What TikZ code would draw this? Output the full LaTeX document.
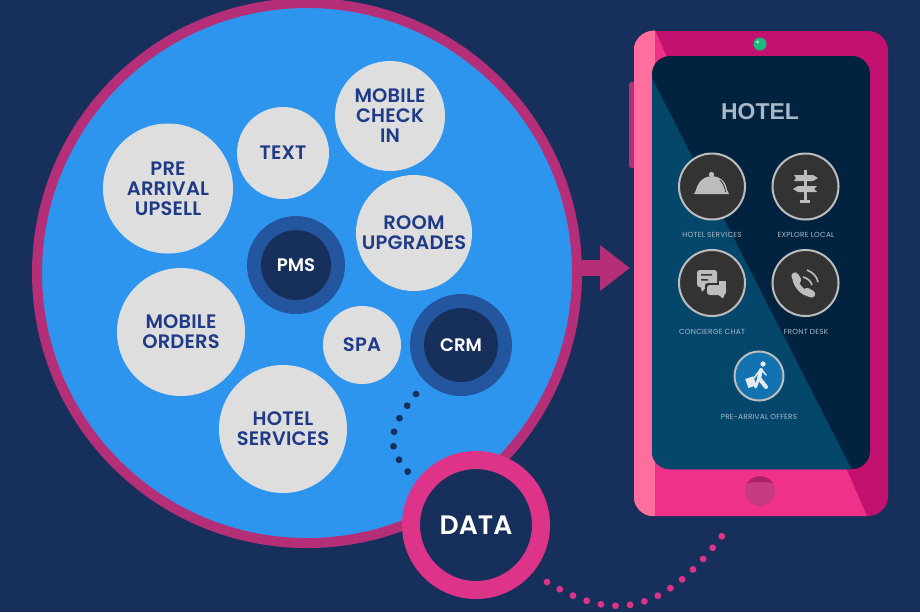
\documentclass[tikz,border=0pt]{standalone}
\usepackage{fontspec}
\setmainfont{Poppins}[BoldFont={Poppins SemiBold}]
\setsansfont{Liberation Sans}
\usetikzlibrary{arrows.meta, calc}
\definecolor{cnight}{HTML}{17305B}
\definecolor{cring}{HTML}{B52F78}
\definecolor{csky}{HTML}{2E95EE}
\definecolor{cpale}{HTML}{DEDEDE}
\definecolor{cink}{HTML}{1F3A86}
\definecolor{cmid}{HTML}{23569F}
\definecolor{cdata}{HTML}{DD3388}
\definecolor{cmagenta}{HTML}{C2116F}
\definecolor{cpink}{HTML}{F03189}
\definecolor{crose}{HTML}{FF6F9E}
\definecolor{cscreen}{HTML}{02233F}
\definecolor{cglass}{HTML}{05476B}
\definecolor{cicon}{HTML}{333333}
\definecolor{csilver}{HTML}{BDBDBD}
\definecolor{clabel}{HTML}{A9B9C8}
\definecolor{clens}{HTML}{19B97F}
\definecolor{coffer}{HTML}{1372B0}
\definecolor{cwalker}{HTML}{E4ECF2}
\definecolor{chome}{HTML}{C63A80}
\definecolor{ccap}{HTML}{AE2168}
\tikzset{
  x=0.75pt, y=-0.75pt,
  bubble/.style={circle, fill=cpale, text=cink, align=center, inner sep=0pt, minimum size=#1*0.75pt,
    font=\fontsize{14.6}{15}\selectfont\bfseries\addfontfeatures{LetterSpace=1}},
  hole/.style={circle, fill=cnight, text=white, inner sep=0pt, minimum size=#1*0.75pt,
    font=\fontsize{13.6}{14}\selectfont\bfseries},
  halo/.style={circle, fill=cmid, inner sep=0pt, minimum size=#1*0.75pt},
  dotline/.style={draw=#1, line width=5.1pt, line cap=round, dash pattern=on 0pt off 11pt},
  arrow/.style={-{Triangle[length=22.5pt, width=33pt]}, draw=cring, line width=12pt},
  app/.style={circle, fill=cicon, draw=csilver, line width=1.5pt, inner sep=0pt, minimum size=#1*0.75pt},
  applabel/.style={text=clabel, inner sep=0pt, font=\fontsize{5.5}{6}\selectfont\addfontfeatures{LetterSpace=3}},
  glyph/.style={fill=csilver, draw=none},
  panel/.style={rectangle, inner sep=0pt, minimum width=#1*0.75pt},
}
\begin{document}
\begin{tikzpicture}
  \fill[cnight] (0,0) rectangle (920,612);
  \useasboundingbox (0,0) rectangle (920,612);

  \node[circle, fill=csky, draw=cring, line width=7.5pt, inner sep=0pt, minimum size=405pt] (hub) at (307,273) {};
  \node[bubble=130] (upsell) at (168,188.5) {PRE\\ARRIVAL\\UPSELL};
  \node[bubble=92] (text) at (283,153) {TEXT};
  \node[bubble=110] (checkin) at (390,116) {MOBILE\\CHECK\\IN};
  \node[bubble=116] (room) at (414,233) {ROOM\\UPGRADES};
  \node[bubble=128] (orders) at (181,332) {MOBILE\\ORDERS};
  \node[bubble=78] (spa) at (362,345) {SPA};
  \node[bubble=128] (services) at (283,429) {HOTEL\\SERVICES};
  \node[halo=98] (pmsring) at (296,265) {};
  \node[hole=70] (pms) at (296,265) {PMS};
  \node[halo=102] (crmring) at (461,345) {};
  \node[hole=74] (crm) at (461,345) {CRM};

  \coordinate (crmtail) at (416,394);
  \coordinate (datatail) at (408,472);
  \draw[dotline=cnight] (crmtail) .. controls (383,435) and (390,450) .. (datatail);

  \node[hole=130, draw=cdata, line width=13.5pt, font=\fontsize{20}{20}\selectfont\bfseries] (data) at (476,525) {DATA};

  \fill[cring, rounded corners=2pt] (629,82) rectangle (640,168);
  \node[panel=254, minimum height=363.75pt, fill=cmagenta, rounded corners=15pt] (phone) at (761,273.5) {};
  \begin{scope}
    \clip[rounded corners=15pt] (phone.south west) rectangle (phone.north east);
    \fill[cpink] (655,30) -- (867,516) -- (634,516) -- (634,30) -- cycle;
    \fill[crose] (634,30) rectangle (655,516);
  \end{scope}
  \node[panel=218, minimum height=309.75pt, fill=cscreen, rounded corners=13.5pt] (screen) at (761,262.5) {};
  \begin{scope}
    \clip[rounded corners=13.5pt] (screen.south west) rectangle (screen.north east);
    \fill[cglass] (652,78) -- (852,470) -- (652,470) -- cycle;
  \end{scope}
  \node[circle, fill=chome, inner sep=0pt, minimum size=22.5pt] (home) at (760,491) {};
  \begin{scope}
    \clip (home) circle (15);
    \fill[ccap] (745,476) -- (775,476) -- (775,484) .. controls (768,481) and (752,481) .. (745,484) -- cycle;
  \end{scope}
  \node[circle, fill=clens, inner sep=0pt, minimum size=9.75pt] (lens) at (760,44) {};
  \fill[white!70!clens] (757.5,42) circle (1.5);

  \node[font=\sffamily\bfseries\fontsize{17.2}{20}\selectfont, text=clabel] (title) at (760,111.5) {HOTEL};
  \node[app=66] (hotelapp) at (712,186.5) {};
  \node[app=66] (localapp) at (805.5,186.5) {};
  \node[app=66] (chatapp) at (712,283) {};
  \node[app=66] (deskapp) at (805.5,283) {};
  \node[app=49, fill=coffer] (offerapp) at (759,376) {};
  \node[applabel] (hotellabel) at (712,235) {HOTEL SERVICES};
  \node[applabel] (locallabel) at (806,235) {EXPLORE LOCAL};
  \node[applabel] (chatlabel) at (712,331.5) {CONCIERGE CHAT};
  \node[applabel] (desklabel) at (806,331.5) {FRONT DESK};
  \node[applabel] (offerlabel) at (759,417) {PRE-ARRIVAL OFFERS};

  \fill[glyph] (694,194) -- (729,194) -- (727,190) .. controls (726,181) and (719,176) .. (712,176) .. controls (705,176) and (698,181) .. (696,190) -- cycle;
  \fill[glyph] (711.5,174.5) circle (2.6);
  \draw[cicon, line width=0.6pt] (720,180) .. controls (723,183) and (725,187) .. (725.5,192);

  \fill[glyph] (803.5,170) rectangle (806.5,201);
  \fill[glyph] (800,200) rectangle (810,203);
  \fill[glyph] (794,175) -- (813,175) -- (818,178) -- (813,181) -- (794,181) -- (796,178) -- cycle;
  \fill[glyph] (817,186) -- (798,186) -- (793,189) -- (798,192) -- (817,192) -- (814,189) -- cycle;

  \fill[glyph, rounded corners=2pt] (697,270) rectangle (717,287);
  \fill[glyph] (700,285) -- (708,285) -- (702,292) -- cycle;
  \fill[cicon] (701,274) rectangle (712,275.5) (701,279) rectangle (708,280.5);
  \fill[cicon, rounded corners=2pt] (705,283) rectangle (728,297);
  \fill[cicon] (719,279) rectangle (728,284);
  \fill[glyph, rounded corners=2pt] (707,285) rectangle (726,295);
  \fill[glyph] (719,281) rectangle (726,288);
  \fill[glyph] (716,293) -- (725,293) -- (723,298.5) -- cycle;

  \draw[csilver, line width=4pt, line cap=round] (795,277) .. controls (795,285) and (803,294) .. (811,294);
  \draw[csilver, line width=5.5pt, line cap=round] (795,276) -- (797.5,280) (807,291.5) -- (811.5,294);
  \draw[csilver, line width=1.2pt] (803,277) .. controls (807,278) and (811,281) .. (812,285);
  \draw[csilver, line width=1.2pt] (807,270) .. controls (812,272) and (817,276) .. (818,282);

  \fill[cwalker] (763,364) circle (2.6);
  \draw[cwalker, line width=3pt, line cap=round, line join=round] (761,370) -- (759,378) -- (766,387);
  \draw[cwalker, line width=2.2pt, line cap=round, line join=round] (759,378) -- (755.5,387);
  \draw[cwalker, line width=1.1pt, line cap=round, line join=round] (760,370) -- (754,378) (762,370) -- (766,375);
  \fill[cwalker, rotate around={20:(750.5,382)}] (746.5,377.5) rectangle (755,387);

  \coordinate (phonetip) at (630,268);
  \draw[arrow] (hub.east |- phonetip) -- (phonetip);

  \coordinate (datahead) at (547,582);
  \coordinate (phonetail) at (722,536);
  \draw[dotline=cdata] (datahead) .. controls (610,620) and (660,618) .. (phonetail);
\end{tikzpicture}
\end{document}
